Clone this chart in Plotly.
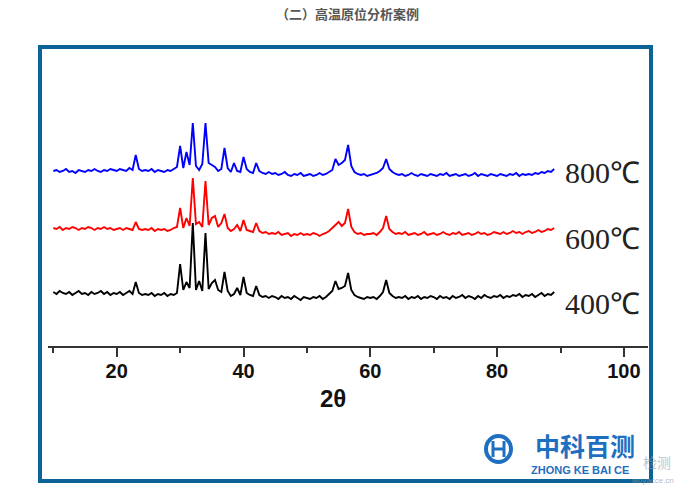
import plotly.graph_objects as go

# 2θ sampling grid (degrees)
TWO_THETA = [
    10.0, 10.5, 11.0, 11.5, 12.0, 12.5, 13.0, 13.5, 14.0, 14.5,
    15.0, 15.5, 16.0, 16.5, 17.0, 17.5, 18.0, 18.5, 19.0, 19.5,
    20.0, 20.5, 21.0, 21.5, 22.0, 22.5, 23.0, 23.5, 24.0, 24.5,
    25.0, 25.5, 26.0, 26.5, 27.0, 27.5, 28.0, 28.5, 29.0, 29.5,
    30.0, 30.5, 31.0, 31.5, 32.0, 32.5, 33.0, 33.5, 34.0, 34.5,
    35.0, 35.5, 36.0, 36.5, 37.0, 37.5, 38.0, 38.5, 39.0, 39.5,
    40.0, 40.5, 41.0, 41.5, 42.0, 42.5, 43.0, 43.5, 44.0, 44.5,
    45.0, 45.5, 46.0, 46.5, 47.0, 47.5, 48.0, 48.5, 49.0, 49.5,
    50.0, 50.5, 51.0, 51.5, 52.0, 52.5, 53.0, 53.5, 54.0, 54.5,
    55.0, 55.5, 56.0, 56.5, 57.0, 57.5, 58.0, 58.5, 59.0, 59.5,
    60.0, 60.5, 61.0, 61.5, 62.0, 62.5, 63.0, 63.5, 64.0, 64.5,
    65.0, 65.5, 66.0, 66.5, 67.0, 67.5, 68.0, 68.5, 69.0, 69.5,
    70.0, 70.5, 71.0, 71.5, 72.0, 72.5, 73.0, 73.5, 74.0, 74.5,
    75.0, 75.5, 76.0, 76.5, 77.0, 77.5, 78.0, 78.5, 79.0, 79.5,
    80.0, 80.5, 81.0, 81.5, 82.0, 82.5, 83.0, 83.5, 84.0, 84.5,
    85.0, 85.5, 86.0, 86.5, 87.0, 87.5, 88.0, 88.5, 89.0,
]

# Stacked intensities (a.u., offset traces)
I_800 = [
    175, 176, 174, 175, 177, 174, 175, 173, 176, 175,
    174, 176, 175, 177, 175, 174, 176, 175, 177, 176,
    175, 177, 176, 175, 178, 176, 191, 177, 175, 176,
    175, 177, 174, 176, 175, 174, 176, 175, 177, 179,
    200, 178, 194, 181, 223, 180, 176, 182, 223, 183,
    181, 179, 175, 177, 198, 178, 174, 183, 175, 174,
    189, 177, 174, 173, 183, 175, 173, 172, 174, 172,
    173, 171, 172, 174, 171, 170, 172, 171, 173, 170,
    171, 172, 170, 171, 173, 171, 172, 174, 176, 187,
    181, 183, 186, 201, 180, 174, 172, 171, 172, 170,
    171, 172, 173, 175, 178, 187, 177, 174, 172, 171,
    172, 170, 171, 173, 171, 170, 172, 171, 170, 172,
    171, 170, 172, 171, 173, 170, 171, 172, 170, 171,
    172, 170, 171, 173, 170, 172, 171, 170, 172, 171,
    170, 172, 171, 170, 172, 171, 173, 170, 172, 171,
    172, 171, 173, 172, 174, 173, 175, 174, 177,
]
I_600 = [
    118, 117, 119, 116, 118, 117, 119, 118, 116, 118,
    117, 119, 118, 116, 118, 117, 119, 117, 118, 116,
    117, 118, 116, 118, 117, 116, 124, 117, 116, 117,
    116, 118, 115, 117, 116, 117, 115, 116, 118, 119,
    138, 118, 128, 120, 168, 122, 124, 119, 165, 121,
    128, 130, 119, 123, 132, 118, 115, 117, 121, 115,
    126, 116, 115, 114, 123, 115, 113, 114, 112, 113,
    112, 114, 111, 112, 113, 110, 112, 111, 113, 111,
    112, 111, 113, 112, 110, 112, 113, 115, 118, 121,
    124, 120, 123, 137, 119, 114, 112, 113, 111, 112,
    112, 113, 111, 114, 118, 130, 117, 114, 112, 113,
    112, 114, 111, 112, 113, 111, 112, 114, 111, 112,
    113, 111, 112, 114, 112, 111, 113, 112, 114, 111,
    112, 113, 111, 112, 114, 112, 113, 111, 112, 114,
    113, 112, 114, 112, 113, 115, 113, 114, 112, 114,
    115, 113, 114, 116, 114, 115, 117, 116, 118,
]
I_400 = [
    54, 52, 55, 53, 52, 54, 51, 53, 55, 52,
    53, 51, 54, 52, 53, 55, 52, 54, 51, 53,
    52, 54, 51, 53, 55, 52, 64, 53, 51, 52,
    51, 53, 50, 52, 51, 53, 50, 52, 51, 53,
    82, 56, 64, 58, 123, 56, 65, 55, 113, 57,
    63, 66, 56, 54, 74, 55, 50, 52, 58, 51,
    69, 53, 51, 50, 60, 51, 49, 50, 48, 50,
    49, 47, 50, 48, 49, 47, 50, 48, 46, 49,
    48, 47, 49, 48, 50, 47, 49, 52, 55, 65,
    57, 58, 60, 73, 56, 51, 49, 48, 47, 49,
    48, 49, 47, 50, 54, 66, 53, 50, 48, 49,
    48, 50, 47, 49, 48, 50, 47, 49, 48, 50,
    49, 47, 50, 48, 49, 47, 50, 48, 49, 51,
    48, 50, 49, 47, 50, 48, 51, 49, 48, 50,
    49, 51, 48, 50, 49, 51, 50, 52, 49, 51,
    50, 52, 49, 51, 53, 50, 52, 51, 54,
]

SERIES_NAMES = ["800℃", "600℃", "400℃"]
SERIES_COLORS = ["#0000ff", "#ff0000", "#000000"]
LABEL_Y = [174, 108, 43]
TICK_VALUES = [20, 40, 60, 80, 100]

W, H = 690, 491
ML, MR, MT, MB = 48, 42, 50, 145
PW, PH = W - ML - MR, H - MT - MB


def px(x):
    return (x - ML) / PW


def py(y):
    return (H - MB - y) / PH


fig = go.Figure()
for name, ys, col in zip(SERIES_NAMES, [I_800, I_600, I_400], SERIES_COLORS):
    fig.add_trace(go.Scatter(x=TWO_THETA, y=ys, mode="lines", name=name,
                             line=dict(color=col, width=1.9), showlegend=False))

annotations = []
for name, yv in zip(SERIES_NAMES, LABEL_Y):
    annotations.append(dict(x=90.4, y=yv, xref="x", yref="y", text=name,
                            showarrow=False, xanchor="left", yanchor="middle",
                            font=dict(family="Liberation Serif, serif",
                                      size=30, color="#222")))

annotations.append(dict(x=px(333), y=py(398), xref="paper", yref="paper",
                        text="2θ", showarrow=False, xanchor="center", yanchor="middle",
                        font=dict(family="Liberation Sans, Arial", size=24,
                                  color="#111", weight="bold")))
annotations.append(dict(x=px(347), y=py(14), xref="paper", yref="paper",
                        text="（二）高温原位分析案例", showarrow=False,
                        xanchor="center", yanchor="middle",
                        font=dict(family="Noto Sans CJK SC", size=13,
                                  color="#555", weight="bold")))
# logo
annotations.append(dict(x=px(585), y=py(445), xref="paper", yref="paper",
                        text="中科百测", showarrow=False, xanchor="center", yanchor="middle",
                        borderpad=0,
                        font=dict(family="Noto Sans CJK SC", size=25,
                                  color="#1f6fc1", weight="bold")))
annotations.append(dict(x=px(580), y=py(470), xref="paper", yref="paper",
                        text="ZHONG KE BAI CE", showarrow=False, xanchor="center",
                        yanchor="middle", borderpad=0,
                        font=dict(family="Liberation Sans, Arial", size=11,
                                  color="#1f6fc1", weight="bold")))
annotations.append(dict(x=px(657), y=py(462), xref="paper", yref="paper",
                        text="检测", showarrow=False, xanchor="center", yanchor="middle",
                        font=dict(family="Noto Sans CJK SC", size=14,
                                  color="rgba(150,150,150,0.6)")))
annotations.append(dict(x=px(652), y=py(480), xref="paper", yref="paper",
                        text="woyacce.cn", showarrow=False, xanchor="center",
                        yanchor="middle",
                        font=dict(family="Liberation Sans", size=8,
                                  color="rgba(150,150,150,0.7)")))

shapes = [
    dict(type="rect", xref="paper", yref="paper", x0=px(40), x1=px(651),
         y0=py(47), y1=py(481), line=dict(color="#0b6398", width=4),
         fillcolor="rgba(0,0,0,0)", layer="above"),
    dict(type="circle", xref="paper", yref="paper", x0=px(486), x1=px(511),
         y0=py(436), y1=py(462), line=dict(color="#1f6fc1", width=4)),
    dict(type="line", xref="paper", yref="paper", x0=px(493), x1=px(493),
         y0=py(441), y1=py(457), line=dict(color="#1f6fc1", width=3)),
    dict(type="line", xref="paper", yref="paper", x0=px(504), x1=px(504),
         y0=py(441), y1=py(457), line=dict(color="#1f6fc1", width=3)),
    dict(type="line", xref="paper", yref="paper", x0=px(493), x1=px(504),
         y0=py(449), y1=py(449), line=dict(color="#1f6fc1", width=3)),
]

fig.update_layout(
    width=W, height=H,
    margin=dict(l=ML, r=MR, t=MT, b=MB, pad=0),
    paper_bgcolor="white", plot_bgcolor="white",
    annotations=annotations, shapes=shapes,
    xaxis=dict(range=[9.16, 103.8], showgrid=False, zeroline=False,
               showline=True, linecolor="#333", linewidth=1.5,
               ticks="outside", ticklen=9, tickwidth=1.5, tickcolor="#333",
               tickvals=TICK_VALUES, ticklabelstandoff=-3,
               tickfont=dict(family="Liberation Sans, Arial", size=20,
                             color="#111", weight="bold"),
               minor=dict(ticks="outside", ticklen=5, tickwidth=1.5,
                          tickcolor="#333", tick0=0, dtick=10, showgrid=False)),
    yaxis=dict(range=[0, PH], visible=False, fixedrange=True),
)

fig.write_html("out.html")
